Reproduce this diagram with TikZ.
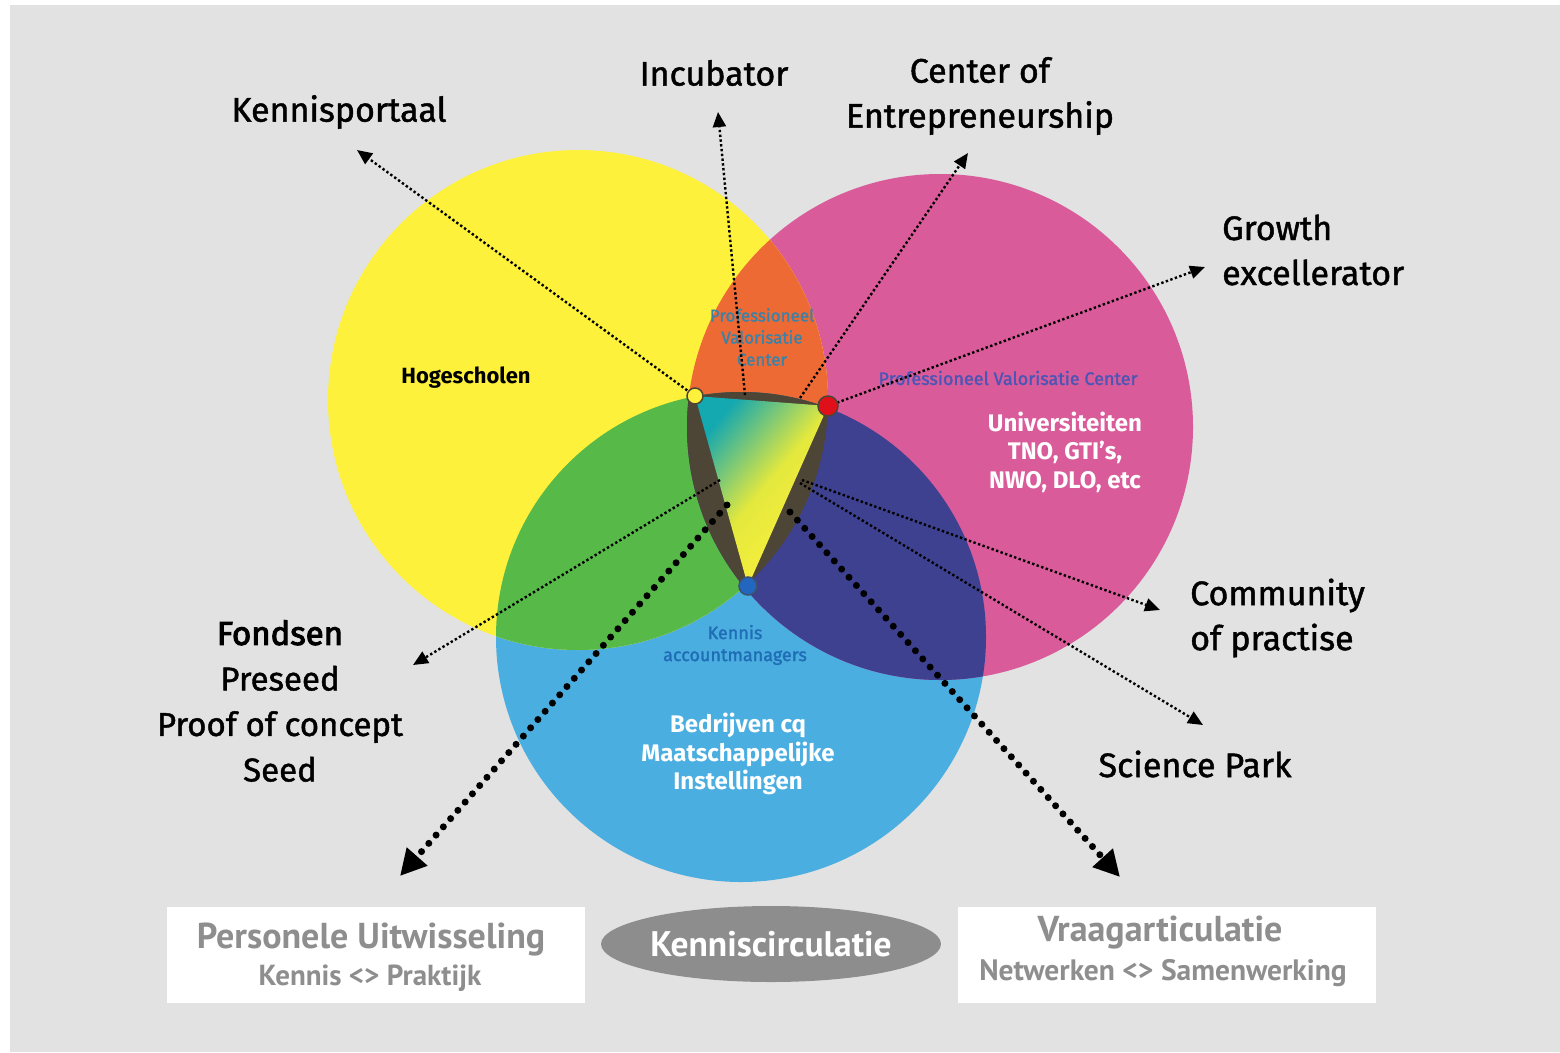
\documentclass[tikz,border=0pt]{standalone}
\usepackage{fontspec}
\setmainfont{Fira Sans}
\newfontfamily\ptsans{PT Sans}
\newfontfamily\labfont[FakeBold=1.3]{Fira Sans}
\newfontfamily\labfontb[FakeBold=3]{Fira Sans}
\newfontfamily\smallfont[FakeBold=1.5]{Fira Sans}
\usetikzlibrary{arrows.meta,shapes.geometric}
\definecolor{bg}{HTML}{E2E2E2}
\definecolor{cyel}{HTML}{FDF13B}
\definecolor{cpink}{HTML}{D95B9A}
\definecolor{cblue}{HTML}{4BAEE0}
\definecolor{corange}{HTML}{EE6A35}
\definecolor{cgreen}{HTML}{57B948}
\definecolor{cpurple}{HTML}{3D4190}
\definecolor{cdark}{HTML}{4D4536}
\definecolor{cteal}{HTML}{14A8B0}
\definecolor{ctxtgray}{HTML}{8E8E8E}
\definecolor{cpvc}{HTML}{3A82A8}
\definecolor{cpvctwo}{HTML}{4A55B5}
\definecolor{cka}{HTML}{1F6DB5}
\definecolor{cell}{HTML}{8D8D8D}
\definecolor{cred}{HTML}{E0101A}
\definecolor{cdotblue}{HTML}{2266C0}
\tikzset{
  thinarrow/.style={draw=black, line width=2.4pt, dash pattern=on 2.4pt off 2.4pt, -{Triangle[length=15pt,width=13pt]}},
  thickarrow/.style={draw=black, line width=7pt, line cap=round, dash pattern=on 0pt off 11pt, -{Triangle[length=26pt,width=26pt]}},
  lab/.style={font=\labfont\fontsize{34}{45}\selectfont, text=black, align=center, inner sep=0pt},
  inlab/.style={font=\fontsize{24}{28.5}\selectfont\bfseries, text=white, align=center, inner sep=0pt},
  smalllab/.style={font=\smallfont\fontsize{17}{22}\selectfont, align=center, inner sep=0pt},
  boxtext/.style={text=ctxtgray, inner sep=0pt},
  whitebox/.style={fill=white, draw=none, minimum width=418pt, minimum height=96pt, inner sep=0pt},
}
\begin{document}
\begin{tikzpicture}[x=1pt,y=-1pt]
\useasboundingbox (0,0) rectangle (1560,1052);
\fill[white] (0,0) rectangle (1560,1052);
\fill[bg] (10,5) rectangle (1560,1052);

% circles
\def\yellowc{(578,400) circle[radius=250]}
\def\pinkc{(940,427) circle[radius=253]}
\def\bluec{(741,637) circle[radius=245]}
\fill[cblue] \bluec;
\fill[cpink] \pinkc;
\fill[cyel] \yellowc;
\begin{scope}\clip \yellowc; \fill[corange] \pinkc; \end{scope}
\begin{scope}\clip \yellowc; \fill[cgreen] \bluec; \end{scope}
\begin{scope}\clip \pinkc; \fill[cpurple] \bluec; \end{scope}
\begin{scope}\clip \yellowc; \clip \pinkc; \fill[cdark] \bluec; \end{scope}

% central triangle
\coordinate (Y) at (695,396);
\coordinate (R) at (828,406);
\coordinate (B) at (748,586);
\shade[left color=cteal, right color=cyel, middle color=cyel!85!cgreen, shading angle=50] (Y) -- (R) -- (B) -- cycle;

% inner labels
\node[font=\fontsize{22}{26}\selectfont\bfseries, inner sep=0pt] (hog) at (466,378) {Hogescholen};
\node[inlab] (uni) at (1065,452) {Universiteiten\\TNO, GTI's,\\NWO, DLO, etc};
\node[inlab] (bed) at (738,754) {Bedrijven cq\\Maatschappelijke\\Instellingen};
\node[smalllab, text=cpvc] (pvc) at (762,337) {Professioneel\\Valorisatie\\Center};
\node[smalllab, text=cpvctwo, font=\smallfont\fontsize{18}{22}\selectfont] (pvctwo) at (1008,378) {Professioneel Valorisatie Center};
\node[smalllab, text=cka, font=\smallfont\fontsize{18}{22}\selectfont] (ka) at (735,645) {Kennis\\accountmanagers};

% outer labels
\node[lab] (kp) at (339,112) {Kennisportaal};
\node[lab] (inc) at (714,73) {Incubator};
\node[lab] (coe) at (980,96) {Center of\\Entrepreneurship};
\node[lab, align=left, anchor=west] (ge) at (1222,250) {Growth\\excellerator};
\node[lab, align=left, anchor=west] (cop) at (1190,618) {Community\\of practise};
\node[lab] (sp) at (1195,764) {Science Park};
\node[lab, font=\labfont\fontsize{33}{45.5}\selectfont] (fon) at (280,701) {{\labfontb Fondsen}\\Preseed\\Proof of concept\\Seed};

% arrow coordinates
\coordinate (kpT) at (357,150);
\coordinate (incS) at (745,395);
\coordinate (incT) at (718,112);
\coordinate (coeS) at (800,398);
\coordinate (coeT) at (968,153);
\coordinate (geT) at (1205,267);
\coordinate (copS) at (802,480);
\coordinate (copT) at (1160,610);
\coordinate (spS) at (800,483);
\coordinate (spT) at (1203,725);
\coordinate (fonS) at (720,480);
\coordinate (fonT) at (413,665);
\coordinate (perS) at (727,505);
\coordinate (perT) at (400,876);
\coordinate (vraS) at (790,512);
\coordinate (vraT) at (1120,877);

\draw[thinarrow] (Y) -- (kpT);
\draw[thinarrow] (incS) -- (incT);
\draw[thinarrow] (coeS) -- (coeT);
\draw[thinarrow] (R) -- (geT);
\draw[thinarrow] (copS) -- (copT);
\draw[thinarrow] (spS) -- (spT);
\draw[thinarrow] (fonS) -- (fonT);
\draw[thickarrow] (perS) -- (perT);
\draw[thickarrow] (vraS) -- (vraT);

% dots
\fill[cyel, draw=cdark, line width=1.5pt] (Y) circle[radius=8];
\fill[cred, draw=cdark, line width=1.5pt] (R) circle[radius=10];
\fill[cdotblue, draw=cdark!60!cdotblue, line width=1.5pt] (B) circle[radius=9];

% bottom
\node[whitebox] (pbox) at (376,955) {};
\node[whitebox] (vbox) at (1167,955) {};
\node[ellipse, fill=cell, minimum width=340pt, minimum height=76pt, inner sep=0pt] (kc) at (771,944) {};
\node[font=\ptsans\bfseries\fontsize{35.5}{40}\selectfont, text=white, inner sep=0pt] (kct) at (kc.center) {Kenniscirculatie};
\node[boxtext, font=\ptsans\bfseries\fontsize{36}{40}\selectfont] (pu) at (371,940) {Personele Uitwisseling};
\node[boxtext, font=\ptsans\bfseries\fontsize{29}{32}\selectfont] (kpr) at (370,978) {Kennis <> Praktijk};
\node[boxtext, font=\ptsans\bfseries\fontsize{36}{40}\selectfont] (va) at (1160,933) {Vraagarticulatie};
\node[boxtext, font=\ptsans\bfseries\fontsize{29.5}{32}\selectfont] (ns) at (1163,973) {Netwerken <> Samenwerking};
\end{tikzpicture}
\end{document}
